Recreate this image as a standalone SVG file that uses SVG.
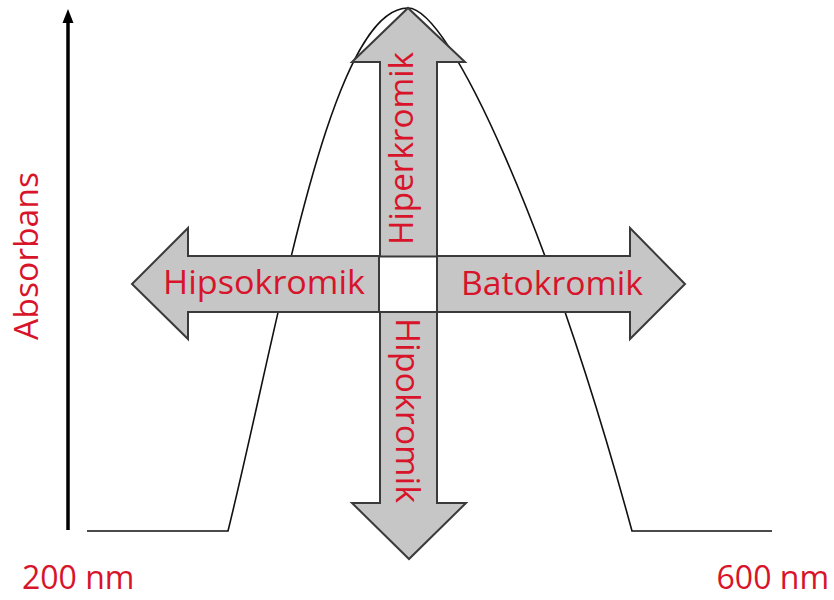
<svg xmlns="http://www.w3.org/2000/svg" width="834" height="600" viewBox="0 0 834 600">
<defs>
<style>
.lbl{font-family:"Open Sans","Liberation Sans",Arial,sans-serif;font-size:32px;fill:#d7142a}
.arr{fill:#c6c6c6;stroke:#3a3a3a;stroke-width:2;stroke-linejoin:miter}
.ln{fill:none;stroke:#111;stroke-width:1.6}
</style>
</defs>
<rect width="834" height="600" fill="#fff"/>
<g id="axis">
<line x1="68" y1="530" x2="68" y2="16" stroke="#000" stroke-width="3.5"/>
<path d="M62.5,23 L68,9 L73.5,23 Z" fill="#000"/>
</g>
<g id="curve">
<path class="ln" d="M87,531 L228,531 C280,320 330,8 408,8 C450,8 550,230 632,531 L772,531"/>
</g>
<g id="connectors">
<g id="arrow-up">
<path class="arr" d="M380,257 L380,62 L352,62 L408,8 L465,62 L437,62 L437,257"/>
</g>
<g id="arrow-left">
<path class="arr" d="M379,256 L188,256 L188,228 L132,284 L188,339 L188,312 L379,312"/>
</g>
<g id="arrow-right">
<path class="arr" d="M437,256 L630,256 L630,228 L685,284 L630,339 L630,312 L437,312"/>
</g>
<g id="arrow-down">
<path class="arr" d="M380,312 L380,503 L352,503 L409,559 L466,503 L437,503 L437,312"/>
</g>
<rect x="379" y="256.5" width="58" height="55.5" fill="#fff" stroke="#3a3a3a" stroke-width="2"/>
</g>
<g id="n-hiperkromik"><text class="lbl" transform="translate(413,245) rotate(-90)" textLength="193" lengthAdjust="spacingAndGlyphs">Hiperkromik</text></g>
<g id="n-hipsokromik"><text class="lbl" x="163" y="294" textLength="202" lengthAdjust="spacingAndGlyphs">Hipsokromik</text></g>
<g id="n-batokromik"><text class="lbl" x="461" y="295" textLength="182" lengthAdjust="spacingAndGlyphs">Batokromik</text></g>
<g id="n-hipokromik"><text class="lbl" transform="translate(396,318) rotate(90)" textLength="185" lengthAdjust="spacingAndGlyphs">Hipokromik</text></g>
<g id="n-absorbans"><text class="lbl" transform="translate(38,340) rotate(-90)" textLength="168" lengthAdjust="spacingAndGlyphs">Absorbans</text></g>
<g id="n-200"><text class="lbl" x="22" y="589">200 nm</text></g>
<g id="n-600"><text class="lbl" x="829" y="589" text-anchor="end">600 nm</text></g>
</svg>
